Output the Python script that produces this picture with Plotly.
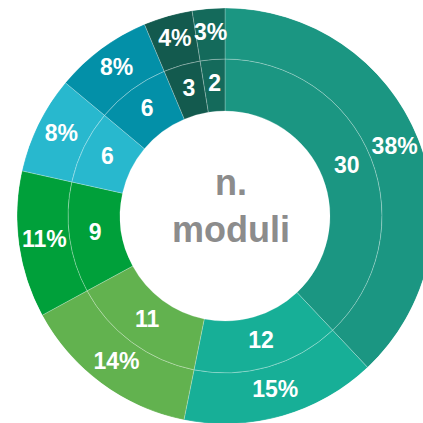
import plotly.graph_objects as go

categories = ["A", "B", "C", "D", "E", "F", "G", "H"]
counts = [30, 12, 11, 9, 6, 6, 3, 2]
colors = ["#1B9682", "#17AF97", "#62B24F", "#00A03A", "#28B8CE", "#0390A8", "#135A4E", "#146A5B"]
center_text = "n.<br>moduli"

total = sum(counts)
pct_labels = [f"{round(c / total * 100)}%" for c in counts]
widths = [c / total * 360 for c in counts]
mids = []
acc = 0.0
for w in widths:
    mids.append(acc + w / 2)
    acc += w

W, H = 446, 426
cx, cy = 225, 216          # pixel centre (from top-left)
R_out, R_mid, R_hole = 208, 157, 105

line = dict(color="rgba(255,255,255,0.35)", width=0.7)
font = dict(family="Liberation Sans, Arial, sans-serif", size=23, color="white", weight="bold")

fig = go.Figure()
# inner ring (counts)
fig.add_trace(go.Barpolar(
    theta=mids, width=widths, base=[R_hole] * len(counts), r=[R_mid - R_hole] * len(counts),
    marker=dict(color=colors, line=line), hoverinfo="skip", showlegend=False,
))
# outer ring (percentages)
fig.add_trace(go.Barpolar(
    theta=mids, width=widths, base=[R_mid] * len(counts), r=[R_out - R_mid] * len(counts),
    marker=dict(color=colors, line=line), hoverinfo="skip", showlegend=False,
))
fig.add_trace(go.Scatterpolar(
    theta=mids, r=[(R_hole + R_mid) / 2] * len(counts), mode="text",
    text=[str(c) for c in counts], textfont=font, textposition="middle center",
    hoverinfo="skip", showlegend=False,
))
fig.add_trace(go.Scatterpolar(
    theta=mids, r=[(R_mid + R_out) / 2] * len(counts), mode="text",
    text=pct_labels, textfont=font, textposition="middle center",
    hoverinfo="skip", showlegend=False,
))
fig.add_annotation(
    text=center_text, x=231 / W, y=(H - 206) / H, xref="paper", yref="paper",
    showarrow=False, xanchor="center", yanchor="middle",
    font=dict(family="Liberation Sans, Arial, sans-serif", size=36, color="#8C8C8C", weight="bold"),
)
fig.update_layout(
    width=W, height=H, margin=dict(l=0, r=0, t=0, b=0),
    paper_bgcolor="white",
    polar=dict(
        domain=dict(x=[(cx - R_out) / W, (cx + R_out) / W], y=[(H - cy - R_out) / H, (H - cy + R_out) / H]),
        bgcolor="rgba(0,0,0,0)", hole=0, bargap=0,
        angularaxis=dict(visible=False, direction="clockwise", rotation=90, thetaunit="degrees"),
        radialaxis=dict(visible=False, range=[0, R_out]),
    ),
)
fig.write_html(
    "out.html",
    config={"displayModeBar": False},
    post_script="document.body.style.margin='0';document.body.style.overflow='hidden';document.documentElement.style.overflow='hidden';",
)
